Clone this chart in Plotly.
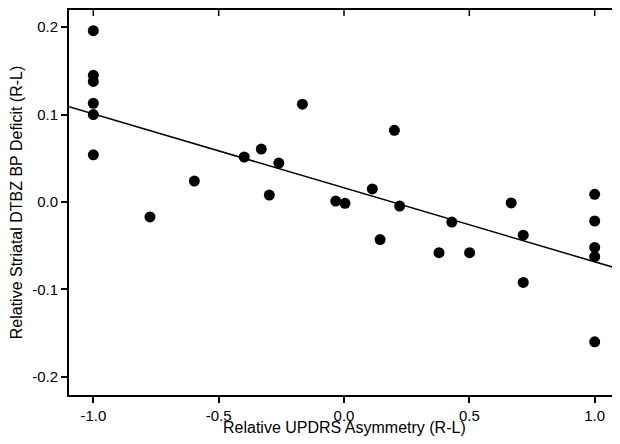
import plotly.graph_objects as go

# Data
x_vals = [-1.0, -1.0, -1.0, -1.0, -1.0, -1.0,
          -0.774, -0.597, -0.398, -0.33, -0.298, -0.26, -0.166,
          -0.033, 0.004, 0.113, 0.144, 0.201, 0.222,
          0.379, 0.43, 0.501, 0.667, 0.715, 0.715,
          1.0, 1.0, 1.0, 1.0, 1.0]
y_vals = [0.196, 0.145, 0.138, 0.113, 0.100, 0.054,
          -0.017, 0.024, 0.0515, 0.0606, 0.008, 0.0446, 0.112,
          0.0011, -0.0015, 0.015, -0.043, 0.082, -0.0046,
          -0.058, -0.023, -0.058, -0.001, -0.038, -0.092,
          0.0088, -0.0217, -0.052, -0.0626, -0.16]

# Regression line
fit_slope = -0.0846
fit_intercept = 0.0162
x_range = [-1.097, 1.097]
y_range = [-0.2208, 0.2197]
line_x = x_range
line_y = [fit_intercept + fit_slope * v for v in line_x]

x_ticks = [-1.0, -0.5, 0.0, 0.5, 1.0]
x_ticklabels = ["-1.0", "-0.5", "0.0", "0.5", "1.0"]
y_ticks = [-0.2, -0.1, 0.0, 0.1, 0.2]
y_ticklabels = ["-0.2", "-0.1", "0.0", "0.1", "0.2"]
x_title = "Relative UPDRS Asymmetry (R-L)"
y_title = "Relative Striatal DTBZ BP Deficit (R-L)"

font_family = "Arial, Liberation Sans, Helvetica, sans-serif"

# page body has an 8px margin; keep the document from overflowing vertically
W, H = 612, 428
M = dict(l=61, r=1, t=2, b=41)
plot_w = W - M["l"] - M["r"]
plot_h = H - M["t"] - M["b"]
TICK = 6

fig = go.Figure()
fig.add_trace(go.Scatter(x=line_x, y=line_y, mode="lines",
                         line=dict(color="black", width=1.5),
                         showlegend=False, hoverinfo="skip"))
fig.add_trace(go.Scatter(x=x_vals, y=y_vals, mode="markers",
                         marker=dict(color="black", size=11),
                         showlegend=False))

common = dict(showgrid=False, zeroline=False, automargin=False,
              tickcolor="black", tickwidth=1.5, ticklen=TICK,
              showline=True, mirror=True, linecolor="black", linewidth=2,
              ticks="outside", tickfont=dict(size=15))

# inward ticks on the top and right frame edges
shapes = []
for xt in x_ticks:
    shapes.append(dict(type="line", xref="x", yref="paper",
                       x0=xt, x1=xt, y0=1, y1=1 - TICK / plot_h,
                       line=dict(color="black", width=1.5)))
for yt in y_ticks:
    shapes.append(dict(type="line", xref="paper", yref="y",
                       x0=1, x1=1 - TICK / plot_w, y0=yt, y1=yt,
                       line=dict(color="black", width=1.5)))

fig.update_layout(
    width=W, height=H,
    margin=dict(**M, autoexpand=False),
    paper_bgcolor="white", plot_bgcolor="white",
    font=dict(family=font_family, color="black", size=15),
    shapes=shapes,
    annotations=[dict(text=x_title, xref="paper", yref="paper", x=0.5, y=0,
                      xanchor="center", yanchor="middle", yshift=-32,
                      showarrow=False, font=dict(size=16))],
    xaxis=dict(range=x_range, tickvals=x_ticks, ticktext=x_ticklabels,
               **common),
    yaxis=dict(range=y_range, tickvals=y_ticks, ticktext=y_ticklabels,
               title=dict(text=y_title, font=dict(size=16), standoff=6),
               **common),
)

fig.write_html("out.html")
